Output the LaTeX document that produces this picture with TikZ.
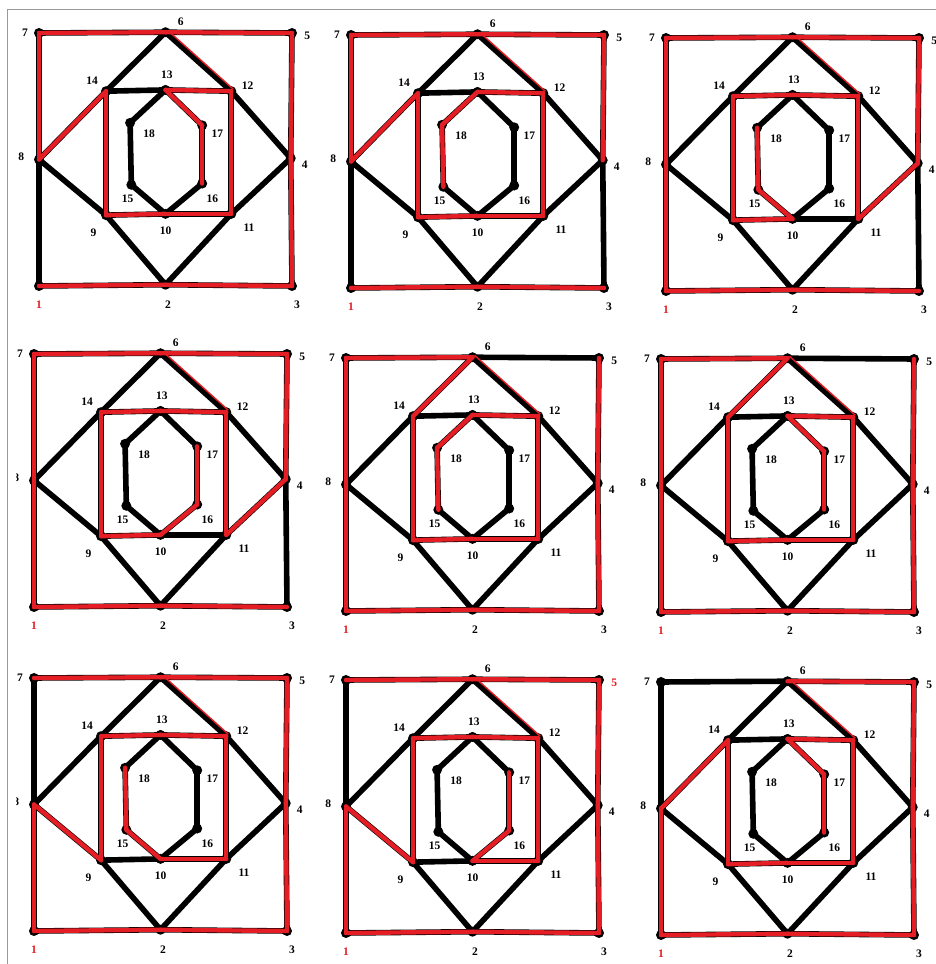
\documentclass[tikz,border=0pt]{standalone}
\usepackage{fontspec}
\setmainfont{Liberation Serif}
\definecolor{hred}{RGB}{228,30,36}
\tikzset{
 vtx/.style={circle, fill=black, inner sep=0pt, minimum size=10pt},
 blk/.style={line width=5.6pt, black, line cap=round, line join=round},
 rd/.style={line width=4.4pt, hred, line cap=round},
 tint/.style={line width=1.4pt, hred},
 lbl/.style={inner sep=0pt, font=\fontsize{11.5}{12}\selectfont\bfseries, text=black},
}
\newcommand{\drawpanel}[5]{%
\begin{scope}[shift={(#2pt,#3pt)}, x=25.3pt, y=25.3pt]
\foreach \n/\px/\py in {1/0/0,2/5/0.05,3/10/0,4/9.95/5.05,5/10/10,6/5/10.03,7/0/10,8/0/5,9/2.65/2.8,10/5/2.85,11/7.6/2.85,12/7.6/7.7,13/5/7.75,14/2.65/7.7,15/3.65/4.0,16/6.45/4.05,17/6.45/6.35,18/3.6/6.45}
  \node[vtx] (#1-\n) at (\px,\py) {};
\foreach \a/\b in {1/2,2/3,3/4,4/5,5/6,6/7,7/8,8/1,8/14,14/6,6/12,12/4,4/11,11/2,2/9,9/8,14/13,13/12,12/11,11/10,10/9,9/14,13/17,17/16,16/10,10/15,15/18,18/13}
  \draw[blk] (#1-\a.center) -- (#1-\b.center);
\draw[tint] ([shift={(2pt,2pt)}]#1-6.center) -- ([shift={(2pt,2pt)}]#1-12.center);
\foreach \a/\b in {#4}
  \draw[rd] (#1-\a.center) -- (#1-\b.center);
\foreach \n/\lx/\ly in {2/5.1/-0.75,3/10.2/-0.75,4/10.5/4.8,6/5.6/10.45,7/-0.55/10.0,8/-0.7/5.1,9/2.15/2.1,10/5.0/2.2,11/8.3/2.3,12/8.25/7.9,13/5.05/8.35,14/2.1/8.1,15/3.5/3.45,16/6.85/3.45,17/7.05/6.0,18/4.35/6.0}
  \node[lbl] (#1-l\n) at (\lx,\ly) {\n};
\node[lbl, text=hred] (#1-l1) at (0,-0.72) {1};
\node[lbl, text=#5] (#1-l5) at (10.6,9.9) {5};
\end{scope}}
\begin{document}
\begin{tikzpicture}[x=1pt,y=1pt]
\useasboundingbox (0,0) rectangle (936,964);
\fill[white] (0,0) rectangle (936,964);
% row 1
\drawpanel{a}{39}{678}{1/2,2/3,3/4,4/5,5/6,6/7,7/8,8/14,14/9,9/10,10/11,11/12,12/13,13/17,17/16}{black}
\drawpanel{b}{351}{676}{1/2,2/3,4/5,5/6,6/7,7/8,8/14,14/9,9/10,10/11,11/12,12/13,13/18,18/15}{black}
\drawpanel{c}{666}{673}{1/2,2/3,1/8,8/7,7/6,6/5,5/4,4/11,11/12,12/13,13/14,14/9,9/10,10/15,15/18}{black}
% row 2
\drawpanel{d}{34}{357}{1/2,2/3,1/8,8/7,7/6,6/5,5/4,4/11,11/12,12/13,13/14,14/9,9/10,10/16,16/17}{black}
\drawpanel{e}{346}{353}{1/2,2/3,3/4,4/5,1/8,8/7,7/6,6/14,14/9,9/10,10/11,11/12,12/13,13/18,18/15}{black}
\drawpanel{f}{661}{352}{1/2,2/3,3/4,4/5,1/8,8/7,7/6,6/14,14/9,9/10,10/11,11/12,12/13,13/17,17/16}{black}
% row 3
\drawpanel{g}{34}{33}{1/2,2/3,3/4,4/5,5/6,6/7,1/8,8/9,9/14,14/13,13/12,12/11,11/10,10/15,15/18}{black}
\drawpanel{h}{346}{31}{1/2,2/3,3/4,4/5,5/6,6/7,1/8,8/9,9/14,14/13,13/12,12/11,11/10,10/16,16/17}{hred}
\drawpanel{i}{661}{29}{1/2,2/3,3/4,4/5,5/6,1/8,8/14,14/9,9/10,10/11,11/12,12/13,13/17,17/16}{black}
% masks for cut labels and frame
\fill[white] (0,472) rectangle (16.2,500);
\fill[white] (0,148) rectangle (16.2,176);
\coordinate (fb) at (7,0);
\coordinate (ftl) at (7,954.5);
\coordinate (ftr) at (936,954.5);
\draw[black!40, line width=1pt] (fb) -- (ftl) -- (ftr);
\end{tikzpicture}
\end{document}
